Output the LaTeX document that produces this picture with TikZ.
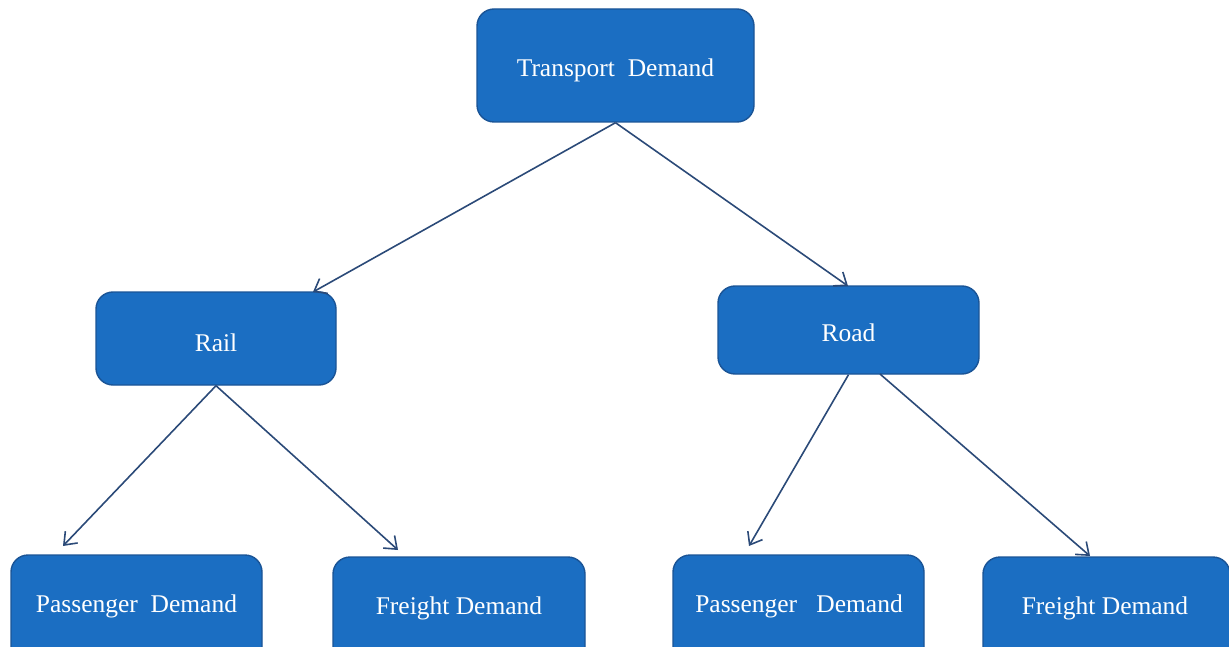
\documentclass[tikz,border=0pt]{standalone}
\usepackage{fontspec}
\setmainfont{Liberation Serif}
\usetikzlibrary{arrows.meta}
\definecolor{boxfill}{HTML}{1B6EC2}
\definecolor{boxline}{HTML}{1A5496}
\definecolor{arrowcol}{HTML}{2B4A78}
\tikzset{
  box/.style={draw=boxline, line width=1.4pt, fill=boxfill, rounded corners=17pt, inner sep=0pt},
  lbl/.style={text=white, font=\fontsize{25.5}{30}\selectfont},
  link/.style={draw=arrowcol, line width=1.6pt, -{Straight Barb[length=11pt,width=17pt,line width=1.6pt]}}
}
\begin{document}
\begin{tikzpicture}[x=1pt,y=-1pt]
\useasboundingbox (0,0) rectangle (1229,647);
\clip (0,0) rectangle (1229,647);
% boxes
\node[box, minimum width=277pt, minimum height=113pt] (top) at (615.5,65.5) {};
\node[lbl] (ttop) at (615.5,70) {Transport\ \ Demand};
\node[box, minimum width=240pt, minimum height=93pt] (rail) at (216,338.5) {};
\node[lbl] (trail) at (216,343) {Rail};
\node[box, minimum width=261pt, minimum height=88pt] (road) at (848.5,330) {};
\node[lbl] (troad) at (848.5,333) {Road};
\node[box, minimum width=251pt, minimum height=110pt] (p1) at (136.5,610) {};
\node[lbl] (tp1) at (136.5,606) {Passenger\ \ Demand};
\node[box, minimum width=252pt, minimum height=110pt] (f1) at (459,612) {};
\node[lbl] (tf1) at (459,608) {Freight Demand};
\node[box, minimum width=251pt, minimum height=110pt] (p2) at (798.5,610) {};
\node[lbl] (tp2) at (799,606) {Passenger\ \ \ Demand};
\node[box, minimum width=247pt, minimum height=110pt] (f2) at (1106.5,612) {};
\node[lbl] (tf2) at (1105,608) {Freight Demand};
% arrow tips
\coordinate (tRail) at (313,292);
\coordinate (tRoad) at (848,286);
\coordinate (tP1) at (63,546);
\coordinate (tF1) at (398,550);
\coordinate (tP2) at (749,546);
\coordinate (tF2) at (1090,556);
\coordinate (sRoadR) at (880,374);
% connectors
\draw[link] (top.south) -- (tRail);
\draw[link] (top.south) -- (tRoad);
\draw[link] (rail.south) -- (tP1);
\draw[link] (rail.south) -- (tF1);
\draw[link] (road.south) -- (tP2);
\draw[link] (sRoadR) -- (tF2);
\end{tikzpicture}
\end{document}
